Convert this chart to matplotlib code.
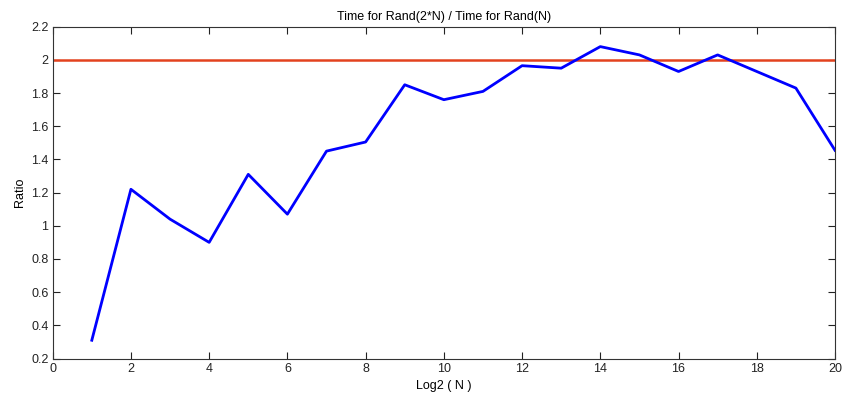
import matplotlib
matplotlib.use("Agg")
import matplotlib.pyplot as plt

log2_n = [1, 2, 3, 4, 5, 6, 7, 8, 9, 10, 11, 12, 13, 14, 15, 16, 17, 18, 19, 20]
ratio = [0.31, 1.22, 1.04, 0.90, 1.31, 1.07, 1.45, 1.505, 1.85, 1.76,
         1.81, 1.965, 1.95, 2.08, 2.03, 1.93, 2.03, 1.93, 1.83, 1.455]
ref_x = [0, 20]
ref_y = [2, 2]

plt.rcParams['font.family'] = ['Liberation Sans', 'DejaVu Sans']
plt.rcParams['font.size'] = 9

fig = plt.figure(figsize=(8.42, 3.98), dpi=100)
ax = fig.add_axes([52.7 / 842, 1 - 358.5 / 398, (835 - 52.7) / 842, (358.5 - 26.7) / 398])

ax.plot(ref_x, ref_y, color='#e3421e', linewidth=1.8)
ax.plot(log2_n, ratio, color='#0000ff', linewidth=2)

ax.set_xlim(0, 20)
ax.set_ylim(0.2, 2.2)
ax.set_xticks(range(0, 21, 2))
ax.set_yticks([0.2, 0.4, 0.6, 0.8, 1, 1.2, 1.4, 1.6, 1.8, 2, 2.2])
ax.set_yticklabels(['0.2', '0.4', '0.6', '0.8', '1', '1.2', '1.4', '1.6', '1.8', '2', '2.2'])
ax.tick_params(direction='in', top=True, right=True, length=5, width=0.8, pad=3, colors='#222222')
for s in ax.spines.values():
    s.set_linewidth(0.8)
    s.set_color('#333333')

ax.set_title("Time for Rand(2*N) / Time for Rand(N)", fontsize=9, pad=5)
ax.set_xlabel("Log2 ( N )", labelpad=4)
ax.set_ylabel("Ratio", labelpad=4)

plt.savefig("out.png", dpi=100)
plt.close()
